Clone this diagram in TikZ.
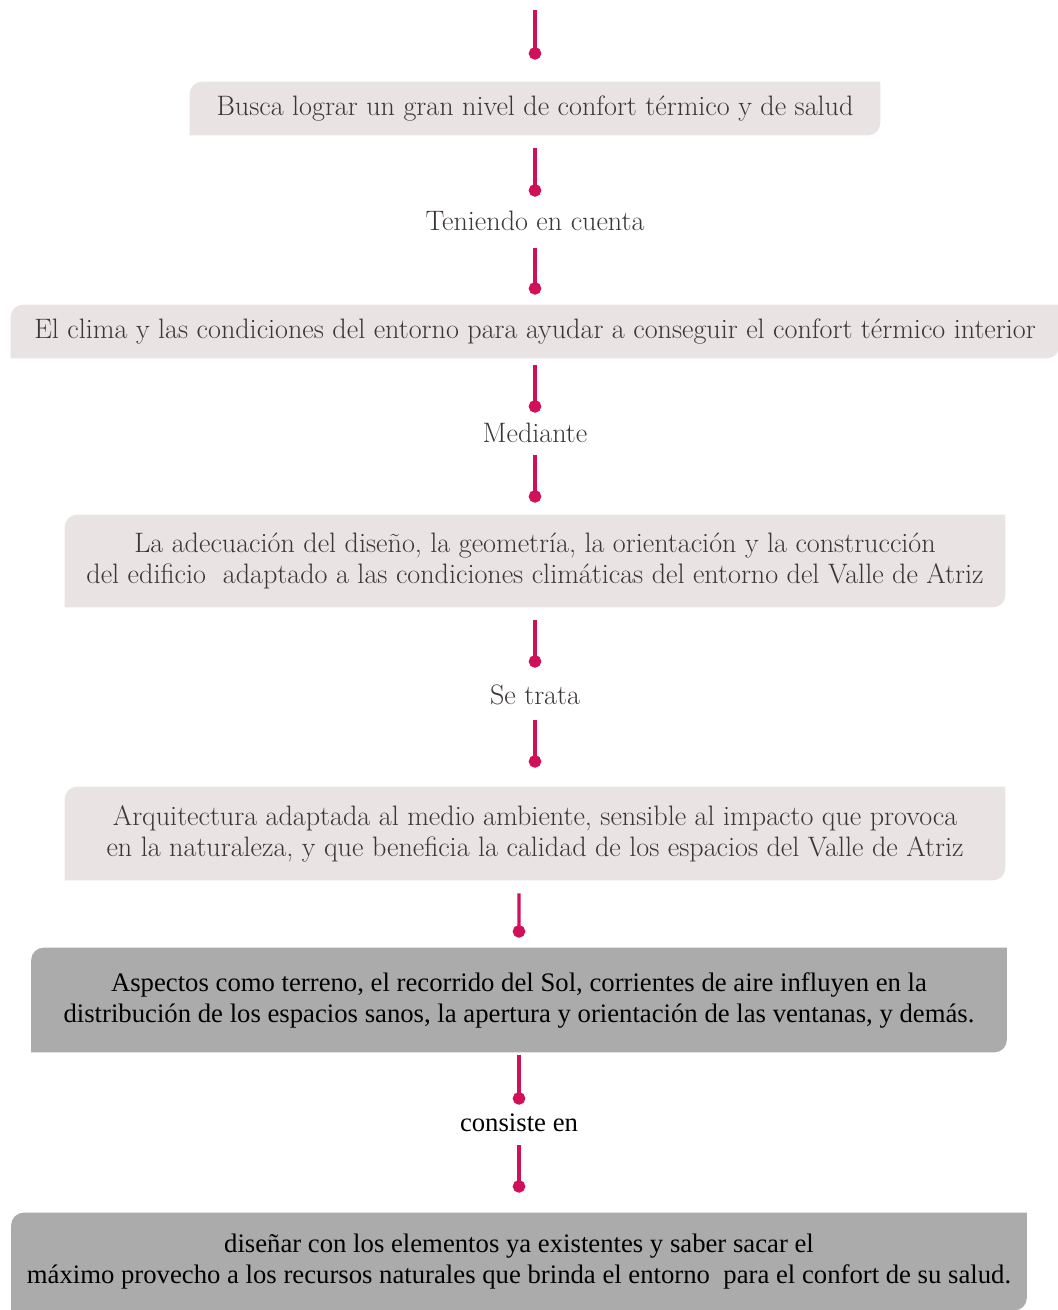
\documentclass[tikz,border=0pt]{standalone}
\usepackage{fontspec}
\newfontfamily\timesfont{Liberation Serif}
\usepackage{tikz}
\usetikzlibrary{arrows.meta, backgrounds}
\definecolor{linkpink}{HTML}{D1105A}
\definecolor{paleboxfill}{HTML}{E9E4E3}
\definecolor{greyboxfill}{HTML}{ABABAB}
\definecolor{softink}{HTML}{3B3535}

% tab-like box: rounded top left and bottom right only
\newcommand{\tabshape}[2]{%
  \fill[#2] (#1.south west) -- ([yshift=-0.25cm]#1.north west)
    arc[start angle=180, end angle=90, radius=0.25cm] -- (#1.north east)
    -- ([yshift=0.25cm]#1.south east)
    arc[start angle=0, end angle=-90, radius=0.25cm] -- cycle;}

\begin{document}
\begin{tikzpicture}[
    box/.style={inner sep=0pt, align=center, text=softink, font=\fontsize{16}{17.6}\selectfont},
    greybox/.style={inner sep=0pt, align=center, text=black, font=\timesfont\fontsize{15.2}{17.6}\selectfont},
    linklabel/.style={inner sep=0pt, minimum height=0.6cm, text=softink, font=\fontsize{16}{17.6}\selectfont},
    link/.style={-{Circle[length=0.25cm, width=0.25cm]}, line width=1.8pt, linkpink},
  ]
    \useasboundingbox (0,0) rectangle (21.16,-26.2);

    \coordinate (start) at (10.7,-0.2);
    \node[box, minimum width=13.8cm, minimum height=1.06cm] (b1) at (10.7,-2.17)
        {Busca lograr un gran nivel de confort térmico y de salud};
    \node[linklabel] (t1) at (10.7,-4.42) {Teniendo en cuenta};
    \node[box, minimum width=20.96cm, minimum height=1.06cm] (b2) at (10.7,-6.63)
        {El clima y las condiciones del entorno para ayudar a conseguir el confort térmico interior};
    \node[linklabel] (t2) at (10.7,-8.66) {Mediante};
    \node[box, minimum width=18.8cm, minimum height=1.84cm] (b3) at (10.7,-11.22)
        {La adecuación del diseño, la geometría, la orientación y la construcción\\
         del edificio\ \ adaptado a las condiciones climáticas del entorno del Valle de Atriz};
    \node[linklabel] (t3) at (10.7,-13.9) {Se trata};
    \node[box, minimum width=18.8cm, minimum height=1.86cm] (b4) at (10.7,-16.67)
        {Arquitectura adaptada al medio ambiente, sensible al impacto que provoca\\
         en la naturaleza, y que beneficia la calidad de los espacios del Valle de Atriz};
    \node[greybox, minimum width=19.5cm, minimum height=2.08cm] (b5) at (10.38,-20.0)
        {Aspectos como terreno, el recorrido del Sol, corrientes de aire influyen en la\\
         distribución de los espacios sanos, la apertura y orientación de las ventanas, y demás.};
    \node[linklabel, text=black, font=\timesfont\fontsize{15.2}{17.6}\selectfont] (t4) at (10.38,-22.46) {consiste en};
    \node[greybox, minimum width=20.3cm, minimum height=1.94cm] (b6) at (10.38,-25.23)
        {diseñar con los elementos ya existentes y saber sacar el\\
         máximo provecho a los recursos naturales que brinda el entorno\ \ para el confort de su salud.};

    \begin{scope}[on background layer]
        \tabshape{b1}{paleboxfill}
        \tabshape{b2}{paleboxfill}
        \tabshape{b3}{paleboxfill}
        \tabshape{b4}{paleboxfill}
        \tabshape{b5}{greyboxfill}
        \tabshape{b6}{greyboxfill}
    \end{scope}

    \draw[link] (start) -- ([yshift=0.44cm]b1.north);
    \draw[link] ([yshift=-0.26cm]b1.south) -- ([yshift=0.18cm]t1.north);
    \draw[link] ([yshift=-0.24cm]t1.south) -- ([yshift=0.2cm]b2.north);
    \draw[link] ([yshift=-0.14cm]b2.south) -- ([yshift=0.1cm]t2.north);
    \draw[link] ([yshift=-0.14cm]t2.south) -- ([yshift=0.24cm]b3.north);
    \draw[link] ([yshift=-0.26cm]b3.south) -- ([yshift=0.24cm]t3.north);
    \draw[link] ([yshift=-0.2cm]t3.south) -- ([yshift=0.38cm]b4.north);
    \draw[link] ([xshift=-0.32cm, yshift=-0.26cm]b4.south) -- ([yshift=0.2cm]b5.north);
    \draw[link] ([yshift=-0.06cm]b5.south) -- ([yshift=0.06cm]t4.north);
    \draw[link] ([yshift=-0.14cm]t4.south) -- ([yshift=0.4cm]b6.north);
\end{tikzpicture}
\end{document}
